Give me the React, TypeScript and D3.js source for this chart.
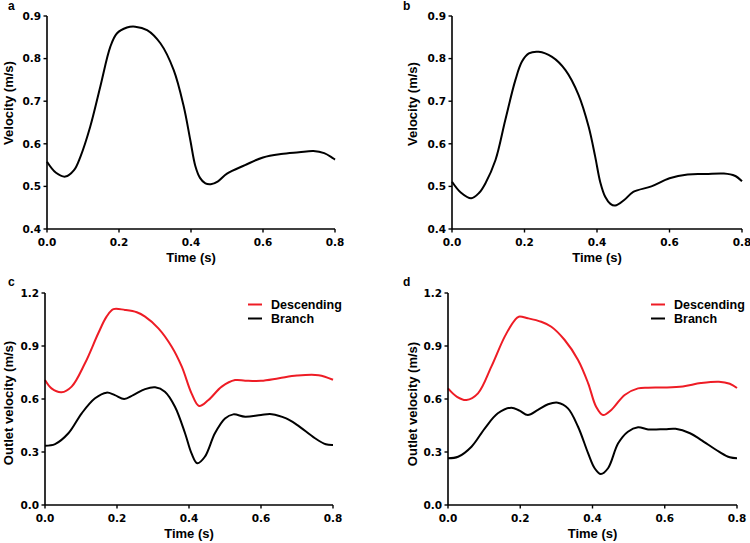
import React from "react";
import * as d3 from "d3";

const timeA = [0, 0.025, 0.051, 0.075, 0.093, 0.12, 0.148, 0.176, 0.194, 0.222, 0.245, 0.278, 0.315, 0.352, 0.38, 0.398, 0.412, 0.425, 0.44, 0.455, 0.475, 0.5, 0.55, 0.6, 0.65, 0.7, 0.74, 0.77, 0.8];
const velA = [0.558, 0.532, 0.523, 0.538, 0.57, 0.64, 0.734, 0.828, 0.859, 0.873, 0.875, 0.867, 0.836, 0.773, 0.687, 0.609, 0.548, 0.52, 0.507, 0.505, 0.512, 0.53, 0.55, 0.568, 0.576, 0.58, 0.583, 0.578, 0.563];

const timeB = [0, 0.025, 0.053, 0.075, 0.092, 0.12, 0.147, 0.175, 0.193, 0.212, 0.239, 0.276, 0.313, 0.349, 0.377, 0.395, 0.409, 0.423, 0.437, 0.45, 0.475, 0.5, 0.55, 0.6, 0.65, 0.7, 0.75, 0.78, 0.8];
const velB = [0.511, 0.485, 0.472, 0.485, 0.507, 0.562, 0.656, 0.75, 0.793, 0.812, 0.816, 0.804, 0.773, 0.715, 0.64, 0.57, 0.51, 0.475, 0.459, 0.455, 0.468, 0.487, 0.5, 0.519, 0.528, 0.529, 0.53, 0.525, 0.512];

const timeC = [0, 0.018, 0.046, 0.074, 0.111, 0.148, 0.171, 0.19, 0.222, 0.255, 0.278, 0.315, 0.352, 0.38, 0.407, 0.428, 0.454, 0.491, 0.528, 0.556, 0.6, 0.65, 0.7, 0.76, 0.8];
const descC = [0.707, 0.66, 0.638, 0.67, 0.802, 0.972, 1.066, 1.109, 1.104, 1.091, 1.066, 1.0, 0.896, 0.783, 0.632, 0.56, 0.594, 0.67, 0.707, 0.704, 0.703, 0.718, 0.733, 0.735, 0.709];

const timeCB = [0, 0.028, 0.065, 0.102, 0.139, 0.171, 0.194, 0.22, 0.245, 0.278, 0.306, 0.333, 0.361, 0.389, 0.407, 0.423, 0.444, 0.472, 0.5, 0.523, 0.556, 0.6, 0.63, 0.67, 0.7, 0.75, 0.78, 0.8];
const branchC = [0.336, 0.345, 0.406, 0.519, 0.604, 0.636, 0.622, 0.6, 0.622, 0.656, 0.666, 0.641, 0.556, 0.406, 0.292, 0.236, 0.273, 0.406, 0.49, 0.513, 0.5, 0.51, 0.514, 0.49, 0.454, 0.378, 0.344, 0.34];

const timeD = [0, 0.025, 0.051, 0.083, 0.12, 0.157, 0.185, 0.196, 0.221, 0.258, 0.286, 0.323, 0.36, 0.388, 0.41, 0.429, 0.452, 0.489, 0.526, 0.554, 0.6, 0.65, 0.7, 0.75, 0.78, 0.8];
const descD = [0.66, 0.612, 0.594, 0.632, 0.783, 0.953, 1.047, 1.066, 1.057, 1.037, 1.009, 0.934, 0.821, 0.689, 0.556, 0.509, 0.538, 0.623, 0.66, 0.664, 0.665, 0.671, 0.69, 0.698, 0.686, 0.662];

const timeDB = [0, 0.028, 0.065, 0.102, 0.138, 0.175, 0.198, 0.221, 0.249, 0.277, 0.304, 0.332, 0.36, 0.388, 0.406, 0.423, 0.443, 0.471, 0.498, 0.526, 0.554, 0.6, 0.63, 0.67, 0.7, 0.75, 0.78, 0.8];
const branchD = [0.264, 0.273, 0.33, 0.434, 0.519, 0.551, 0.534, 0.509, 0.538, 0.57, 0.579, 0.547, 0.443, 0.292, 0.208, 0.175, 0.208, 0.349, 0.415, 0.44, 0.428, 0.429, 0.431, 0.406, 0.369, 0.302, 0.27, 0.265];

const xTicks = [0, 0.2, 0.4, 0.6, 0.8];
const yTicksTop = [0.4, 0.5, 0.6, 0.7, 0.8, 0.9];
const yTicksBottom = [0, 0.3, 0.6, 0.9, 1.2];
const legendLabels = ["Descending", "Branch"];
const RED = "#ee1c25";

type Series = { t: number[]; v: number[]; color: string };

type PanelProps = {
  letter: string;
  letterX: number;
  letterY: number;
  left: number;
  right: number;
  top: number;
  bottom: number;
  yDomain: [number, number];
  yTicks: number[];
  yTitle: string;
  yTitleX: number;
  yTitleY: number;
  series: Series[];
  legend: boolean;
};

const tickFont = "'DejaVu Sans', Verdana, sans-serif";
const titleFont = "'Liberation Sans', Arial, sans-serif";
const fmt = d3.format(".1f");

function Panel(p: PanelProps) {
  const x = d3.scaleLinear().domain([0, 0.8]).range([p.left, p.right]);
  const y = d3.scaleLinear().domain(p.yDomain).range([p.bottom, p.top]);
  const line = d3
    .line<[number, number]>()
    .x((d) => x(d[0]))
    .y((d) => y(d[1]))
    .curve(d3.curveCatmullRom.alpha(0.5));
  const midX = (p.left + p.right) / 2;
  return (
    <g>
      <text x={p.letterX} y={p.letterY} fontFamily={titleFont} fontWeight="bold" fontSize={12}>
        {p.letter}
      </text>
      {p.series.map((s, i) => (
        <path
          key={i}
          d={line(s.t.map((t, j) => [t, s.v[j]]) as [number, number][]) || ""}
          fill="none"
          stroke={s.color}
          strokeWidth={2}
        />
      ))}
      <line x1={p.left} x2={p.left} y1={p.top} y2={p.bottom} stroke="#000" strokeWidth={1.6} />
      <line x1={p.left} x2={p.right} y1={p.bottom} y2={p.bottom} stroke="#000" strokeWidth={1.6} />
      {p.yTicks.map((t) => (
        <g key={"y" + t}>
          <line x1={p.left - 3.5} x2={p.left} y1={y(t)} y2={y(t)} stroke="#000" strokeWidth={1.4} />
          <text
            x={p.left - 6}
            y={y(t) + 3.8}
            textAnchor="end"
            fontFamily={tickFont}
            fontWeight="bold"
            fontSize={10.5}
          >
            {fmt(t)}
          </text>
        </g>
      ))}
      {xTicks.map((t) => (
        <g key={"x" + t}>
          <line x1={x(t)} x2={x(t)} y1={p.bottom} y2={p.bottom + 3.5} stroke="#000" strokeWidth={1.4} />
          <text
            x={x(t)}
            y={p.bottom + 17}
            textAnchor="middle"
            fontFamily={tickFont}
            fontWeight="bold"
            fontSize={10.5}
          >
            {fmt(t)}
          </text>
        </g>
      ))}
      <text
        x={midX}
        y={p.bottom + 33}
        textAnchor="middle"
        fontFamily={titleFont}
        fontWeight="bold"
        fontSize={13}
      >
        Time (s)
      </text>
      <text
        transform={`translate(${p.yTitleX},${p.yTitleY}) rotate(-90)`}
        textAnchor="middle"
        fontFamily={titleFont}
        fontWeight="bold"
        fontSize={13}
      >
        {p.yTitle}
      </text>
      {p.legend &&
        legendLabels.map((lab, i) => (
          <g key={lab}>
            <line
              x1={p.left + 203}
              x2={p.left + 217}
              y1={p.top + 11.5 + i * 14}
              y2={p.top + 11.5 + i * 14}
              stroke={i === 0 ? RED : "#000"}
              strokeWidth={2}
            />
            <text
              x={p.left + 226}
              y={p.top + 16 + i * 14}
              fontFamily={titleFont}
              fontWeight="bold"
              fontSize={12.5}
            >
              {lab}
            </text>
          </g>
        ))}
    </g>
  );
}

export default function App() {
  return (
    <svg
      width={750}
      height={543}
      style={{ position: "absolute", left: 0, top: 0, background: "#fff" }}
    >
      <Panel
        letter="a"
        letterX={8}
        letterY={9.5}
        left={47}
        right={335}
        top={16}
        bottom={229}
        yDomain={[0.4, 0.9]}
        yTicks={yTicksTop}
        yTitle="Velocity (m/s)"
        yTitleX={13}
        yTitleY={103}
        series={[{ t: timeA, v: velA, color: "#000" }]}
        legend={false}
      />
      <Panel
        letter="b"
        letterX={403}
        letterY={9.5}
        left={452}
        right={742}
        top={16}
        bottom={229}
        yDomain={[0.4, 0.9]}
        yTicks={yTicksTop}
        yTitle="Velocity (m/s)"
        yTitleX={417}
        yTitleY={104}
        series={[{ t: timeB, v: velB, color: "#000" }]}
        legend={false}
      />
      <Panel
        letter="c"
        letterX={8}
        letterY={286}
        left={45}
        right={333}
        top={293}
        bottom={505}
        yDomain={[0, 1.2]}
        yTicks={yTicksBottom}
        yTitle="Outlet velocity (m/s)"
        yTitleX={13}
        yTitleY={403}
        series={[
          { t: timeC, v: descC, color: RED },
          { t: timeCB, v: branchC, color: "#000" },
        ]}
        legend={true}
      />
      <Panel
        letter="d"
        letterX={403}
        letterY={286}
        left={448}
        right={737}
        top={293}
        bottom={505}
        yDomain={[0, 1.2]}
        yTicks={yTicksBottom}
        yTitle="Outlet velocity (m/s)"
        yTitleX={417}
        yTitleY={404}
        series={[
          { t: timeD, v: descD, color: RED },
          { t: timeDB, v: branchD, color: "#000" },
        ]}
        legend={true}
      />
    </svg>
  );
}
